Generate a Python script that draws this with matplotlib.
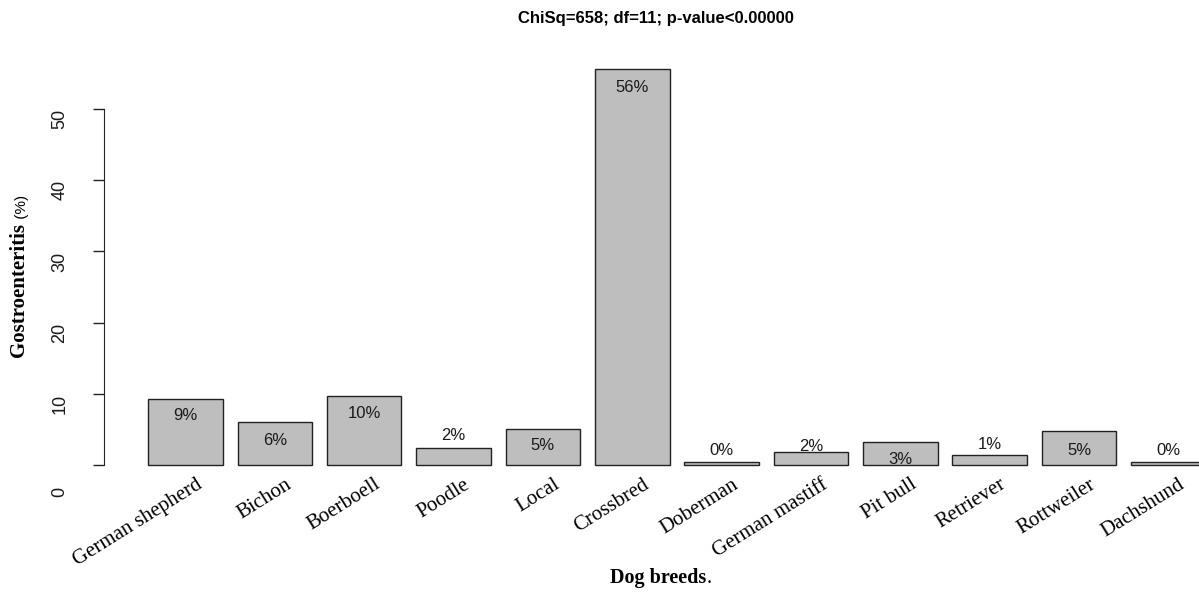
import numpy as np
import matplotlib
matplotlib.use("Agg")
import matplotlib.pyplot as plt
from matplotlib.transforms import offset_copy

# breeds and share of gastroenteritis cases (%)
breeds = ["German shepherd", "Bichon", "Boerboell", "Poodle", "Local", "Crossbred",
          "Doberman", "German mastiff", "Pit bull", "Retriever", "Rottweiler", "Dachshund"]
pct = [9.27, 6.08, 9.69, 2.34, 5.0, 55.6, 0.42, 1.87, 3.27, 1.45, 4.73, 0.46]
# where the % text sits (y, in data units)
pct_text_y = [6.9, 3.5, 7.3, 4.1, 2.8, 53.0, 2.0, 2.6, 0.7, 2.9, 2.0, 2.0]
yticks = [0, 10, 20, 30, 40, 50]

W, H = 1199, 597
fig = plt.figure(figsize=(W / 100, H / 100), dpi=100)

# R barplot geometry: width 1, space 0.2
x = 0.7 + 1.2 * np.arange(len(breeds))
ax_left, ax_bot, ax_top = 104, 472.1, 59.2
ax = fig.add_axes([ax_left / W, (H - ax_bot) / H, (W - ax_left) / W, (ax_bot - ax_top) / H])
ax.set_xlim(-0.3945, 14.311)
ax.set_ylim(-1, 57)

ax.bar(x, pct, width=1, color="#bebebe", edgecolor="#222222", linewidth=1)

for xi, p, ty in zip(x, pct, pct_text_y):
    ax.text(xi, ty, f"{round(p)}%", ha="center", va="center", fontsize=12,
            family="Liberation Sans", color="#1a1a1a")

# x labels, rotated like text(srt=..., adj=1)
tr = offset_copy(ax.transData, fig=fig, x=10, y=-10, units="dots")
for xi, b in zip(x, breeds):
    ax.text(xi, 0, b, transform=tr, rotation=32, rotation_mode="anchor",
            ha="right", va="top", fontsize=15, family="Liberation Serif")

for s in ["top", "right", "bottom"]:
    ax.spines[s].set_visible(False)
ax.spines["left"].set_bounds(0, 50)
ax.spines["left"].set_color("#222222")
ax.set_xticks([])
ax.set_yticks(yticks)
ax.set_yticklabels([])
ax.tick_params(axis="y", length=8, width=1, color="#222222")

# y tick labels: vertical, end of text at the tick (0 sits lower)
for v in yticks:
    shift = -22 if v == 0 else 0
    tt = offset_copy(ax.get_yaxis_transform(), fig=fig, x=-44, y=shift, units="dots")
    ax.text(0, v, str(v), transform=tt, rotation=90, ha="center", va="top",
            fontsize=13, family="Liberation Sans", color="#1a1a1a")

fig.text(656 / W, 1 - 18 / H, "ChiSq=658; df=11; p-value<0.00000", ha="center", va="center",
         fontsize=12, fontweight="bold", family="Liberation Sans")

xl = fig.text(658 / W, 1 - 578 / H, "Dog breeds", ha="center", va="center",
              fontsize=14.5, fontweight="bold", family="Liberation Serif")
ax.annotate(".", xy=(1, 0), xycoords=xl, va="bottom", ha="left", fontsize=14.5,
            family="Liberation Serif")

yl = fig.text(19 / W, 1 - 290 / H, "Gostroenteritis", rotation=90, ha="center", va="center",
              fontsize=15, fontweight="bold", family="Liberation Serif")
ax.annotate(" (%)", xy=(0.65, 1), xycoords=yl, rotation=90, va="bottom", ha="center",
            fontsize=11, family="Liberation Sans")

fig.savefig("out.png", dpi=100)
